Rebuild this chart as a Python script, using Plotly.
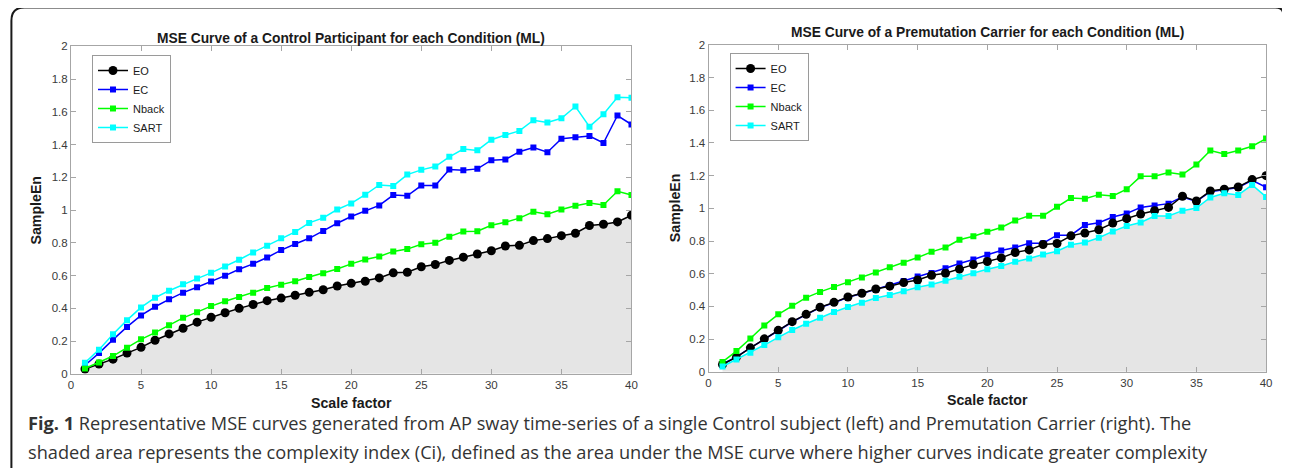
import plotly.graph_objects as go

# Page body keeps its default 8px margin; the figure is sized so that
# figure + margins == 1290 x 476 window.  Positions below are window pixels.
WIN_W, WIN_H = 1290, 476
OFF = 8
W, H = WIN_W - 2 * OFF, WIN_H - 2 * OFF
# measured mapping between requested and rendered window positions
SX, BX = 0.992, 2.16
SY, BY = 0.9636, 8.73

# ---------------- data ----------------
scale_factor = [1, 2, 3, 4, 5, 6, 7, 8, 9, 10, 11, 12, 13, 14, 15, 16, 17, 18, 19, 20,
                21, 22, 23, 24, 25, 26, 27, 28, 29, 30, 31, 32, 33, 34, 35, 36, 37, 38, 39, 40]

ctrl_EO = [0.03, 0.06, 0.09, 0.127, 0.162, 0.205, 0.244, 0.279, 0.316, 0.346,
           0.373, 0.40, 0.424, 0.447, 0.463, 0.48, 0.498, 0.514, 0.537, 0.553,
           0.566, 0.586, 0.617, 0.621, 0.654, 0.668, 0.693, 0.713, 0.732, 0.752,
           0.781, 0.785, 0.814, 0.826, 0.844, 0.859, 0.906, 0.914, 0.928, 0.969]
ctrl_EC = [0.053, 0.127, 0.209, 0.287, 0.357, 0.41, 0.455, 0.496, 0.529, 0.564,
           0.60, 0.639, 0.672, 0.711, 0.756, 0.793, 0.828, 0.873, 0.92, 0.961,
           0.996, 1.029, 1.092, 1.088, 1.15, 1.15, 1.248, 1.244, 1.252, 1.305,
           1.309, 1.357, 1.383, 1.354, 1.436, 1.445, 1.453, 1.41, 1.578, 1.523]
ctrl_Nback = [0.033, 0.07, 0.109, 0.16, 0.211, 0.252, 0.297, 0.342, 0.377, 0.414,
              0.443, 0.469, 0.496, 0.525, 0.545, 0.566, 0.592, 0.615, 0.641, 0.672,
              0.699, 0.717, 0.748, 0.762, 0.791, 0.801, 0.838, 0.869, 0.871, 0.908,
              0.926, 0.951, 0.99, 0.975, 1.004, 1.027, 1.043, 1.031, 1.115, 1.092]
ctrl_SART = [0.068, 0.148, 0.242, 0.328, 0.406, 0.465, 0.508, 0.547, 0.582, 0.617,
             0.656, 0.697, 0.742, 0.783, 0.828, 0.867, 0.922, 0.953, 1.004, 1.041,
             1.094, 1.154, 1.148, 1.217, 1.246, 1.266, 1.326, 1.373, 1.365, 1.43,
             1.459, 1.484, 1.549, 1.535, 1.561, 1.633, 1.51, 1.586, 1.69, 1.686]

prem_EO = [0.045, 0.09, 0.147, 0.202, 0.254, 0.307, 0.352, 0.395, 0.425, 0.458,
           0.481, 0.507, 0.524, 0.546, 0.562, 0.591, 0.603, 0.628, 0.656, 0.675,
           0.697, 0.73, 0.746, 0.779, 0.785, 0.832, 0.849, 0.869, 0.91, 0.937,
           0.965, 0.986, 1.006, 1.074, 1.045, 1.106, 1.117, 1.131, 1.176, 1.2]
prem_EC = [0.048, 0.092, 0.146, 0.2, 0.252, 0.305, 0.35, 0.393, 0.423, 0.456,
           0.479, 0.505, 0.53, 0.556, 0.583, 0.605, 0.634, 0.663, 0.687, 0.716,
           0.742, 0.761, 0.787, 0.787, 0.836, 0.836, 0.898, 0.912, 0.947, 0.969,
           1.006, 1.018, 1.029, 1.07, 1.042, 1.102, 1.113, 1.128, 1.172, 1.129]
prem_Nback = [0.061, 0.127, 0.204, 0.284, 0.352, 0.405, 0.454, 0.489, 0.519, 0.548,
              0.577, 0.607, 0.64, 0.667, 0.699, 0.734, 0.761, 0.808, 0.83, 0.857,
              0.883, 0.926, 0.955, 0.955, 1.01, 1.063, 1.059, 1.084, 1.076, 1.117,
              1.196, 1.196, 1.219, 1.207, 1.268, 1.354, 1.333, 1.354, 1.38, 1.427]
prem_SART = [0.033, 0.076, 0.117, 0.164, 0.211, 0.256, 0.294, 0.331, 0.366, 0.397,
             0.423, 0.452, 0.47, 0.493, 0.517, 0.534, 0.558, 0.581, 0.603, 0.628,
             0.648, 0.673, 0.693, 0.718, 0.738, 0.777, 0.791, 0.82, 0.859, 0.892,
             0.914, 0.953, 0.953, 0.986, 1.002, 1.067, 1.092, 1.082, 1.143, 1.07]

x_ticks = [0, 5, 10, 15, 20, 25, 30, 35, 40]
y_ticks = [0, 0.2, 0.4, 0.6, 0.8, 1, 1.2, 1.4, 1.6, 1.8, 2]
y_ticklabels = ["0", "0.2", "0.4", "0.6", "0.8", "1", "1.2", "1.4", "1.6", "1.8", "2"]

titles = ["MSE Curve of a Control Participant for each Condition (ML)",
          "MSE Curve of a Premutation Carrier for each Condition (ML)"]
x_label = "Scale factor"
y_label = "SampleEn"
caption_line1 = ("<b>Fig. 1</b> Representative MSE curves generated from AP sway time-series of a "
                 "single Control subject (left) and Premutation Carrier (right). The")
caption_line2 = ("shaded area represents the complexity index (Ci), defined as the area under "
                 "the MSE curve where higher curves indicate greater complexity")

# ---------------- helpers ----------------
def px(x):
    d = (x - BX) / SX
    return (d - OFF) / W

def py(y):
    d = (y - BY) / SY
    return 1 - (d - OFF) / H

FONT = "Liberation Sans, Arial, sans-serif"
FILL = "#e5e5e5"
AXIS = "#a6a6a6"
TICKTXT = "#3a3a3a"

series_style = {
    "EO": dict(color="black", symbol="circle", size=9, rank=1),
    "EC": dict(color="#0000ff", symbol="square", size=6, rank=2),
    "Nback": dict(color="#00ff00", symbol="square", size=6, rank=3),
    "SART": dict(color="#00ffff", symbol="square", size=6, rank=4),
}

fig = go.Figure()

panels = [
    dict(xa="x", ya="y", legend="legend", shade=ctrl_EO,
         data={"EO": ctrl_EO, "EC": ctrl_EC, "Nback": ctrl_Nback, "SART": ctrl_SART}),
    dict(xa="x2", ya="y2", legend="legend2", shade=prem_SART,
         data={"EO": prem_EO, "EC": prem_EC, "Nback": prem_Nback, "SART": prem_SART}),
]

draw_order = ["EC", "EO", "Nback", "SART"]
for p in panels:
    fig.add_trace(go.Scatter(x=scale_factor, y=p["shade"], mode="none", fill="tozeroy",
                             fillcolor=FILL, showlegend=False, hoverinfo="skip",
                             xaxis=p["xa"], yaxis=p["ya"]))
    for name in draw_order:
        s = series_style[name]
        fig.add_trace(go.Scatter(
            x=scale_factor, y=p["data"][name], name=name, mode="lines+markers",
            line=dict(color=s["color"], width=1.5),
            marker=dict(color=s["color"], symbol=s["symbol"], size=s["size"], line=dict(width=0)),
            legend=p["legend"], legendrank=s["rank"],
            xaxis=p["xa"], yaxis=p["ya"]))

# geometry (window pixels)
left_box = dict(x0=70, x1=630, y0=48.5, y1=372.5)
right_box = dict(x0=707, x1=1264, y0=47, y1=370.5)

def axis_common():
    return dict(showline=True, linecolor=AXIS, linewidth=1, mirror="ticks",
                ticks="inside", ticklen=5, tickcolor=AXIS, tickwidth=1,
                showgrid=False, zeroline=False,
                tickfont=dict(family=FONT, size=11.5, color=TICKTXT))

xa_common = axis_common()
ya_common = axis_common()

legend_common = dict(xanchor="left", yanchor="top",
                     bgcolor="white", bordercolor="#9a9a9a", borderwidth=1,
                     font=dict(family=FONT, size=11, color="#1a1a1a"),
                     itemwidth=30, tracegroupgap=0)

fig.update_layout(
    width=W, height=H,
    margin=dict(l=0, r=0, t=0, b=0),
    paper_bgcolor="white", plot_bgcolor="white",
    xaxis=dict(domain=[px(left_box["x0"]), px(left_box["x1"])], range=[0, 40],
               tickvals=x_ticks, anchor="y", **xa_common),
    yaxis=dict(domain=[py(left_box["y1"]), py(left_box["y0"])], range=[0, 2],
               tickvals=y_ticks, ticktext=y_ticklabels, anchor="x", **ya_common),
    xaxis2=dict(domain=[px(right_box["x0"]), px(right_box["x1"])], range=[0, 40],
                tickvals=x_ticks, anchor="y2", **xa_common),
    yaxis2=dict(domain=[py(right_box["y1"]), py(right_box["y0"])], range=[0, 2],
                tickvals=y_ticks, ticktext=y_ticklabels, anchor="x2", **ya_common),
    legend=dict(x=px(91), y=py(57), **legend_common),
    legend2=dict(x=px(728), y=py(55), **legend_common),
    showlegend=True,
)

ann = []
# titles
ann.append(dict(text="<b>" + titles[0] + "</b>", x=px(350), y=py(41), xref="paper", yref="paper",
                showarrow=False, xanchor="center", yanchor="middle",
                font=dict(family=FONT, size=13.8, color="#1a1a1a")))
ann.append(dict(text="<b>" + titles[1] + "</b>", x=px(986), y=py(35), xref="paper", yref="paper",
                showarrow=False, xanchor="center", yanchor="middle",
                font=dict(family=FONT, size=13.8, color="#1a1a1a")))
# axis labels
for cx, cy in [(350, 401.5), (986, 398)]:
    ann.append(dict(text="<b>" + x_label + "</b>", x=px(cx), y=py(cy), xref="paper", yref="paper",
                    showarrow=False, xanchor="center", yanchor="middle",
                    font=dict(family=FONT, size=14.2, color="#1a1a1a")))
for cx, cy in [(35, 210), (673, 208)]:
    ann.append(dict(text="<b>" + y_label + "</b>", x=px(cx), y=py(cy), xref="paper", yref="paper",
                    showarrow=False, xanchor="center", yanchor="middle", textangle=-90,
                    font=dict(family=FONT, size=14.2, color="#1a1a1a")))
# caption
ann.append(dict(text=caption_line1, x=px(25), y=py(421), xref="paper", yref="paper",
                showarrow=False, xanchor="left", yanchor="middle",
                font=dict(family="Open Sans", size=18.2, color="#333333")))
ann.append(dict(text=caption_line2, x=px(25), y=py(450), xref="paper", yref="paper",
                showarrow=False, xanchor="left", yanchor="middle",
                font=dict(family="Open Sans", size=18.2, color="#333333")))
fig.update_layout(annotations=ann)

# rounded frame around the figure
fx0, fx1, fy0, fy1, r = 10.5, 1281, 10, 467, 13
path = (f"M {px(fx0)} {py(fy1)} L {px(fx0)} {py(fy0 + r)} "
        f"Q {px(fx0)} {py(fy0)} {px(fx0 + r)} {py(fy0)} "
        f"L {px(fx1 - 8)} {py(fy0)} Q {px(fx1)} {py(fy0)} {px(fx1)} {py(fy0 + 6)}")
fig.add_shape(type="path", path=path, xref="paper", yref="paper",
              line=dict(color="#1a1a1a", width=2))

fig.write_html("out.html", config={"displayModeBar": False})
